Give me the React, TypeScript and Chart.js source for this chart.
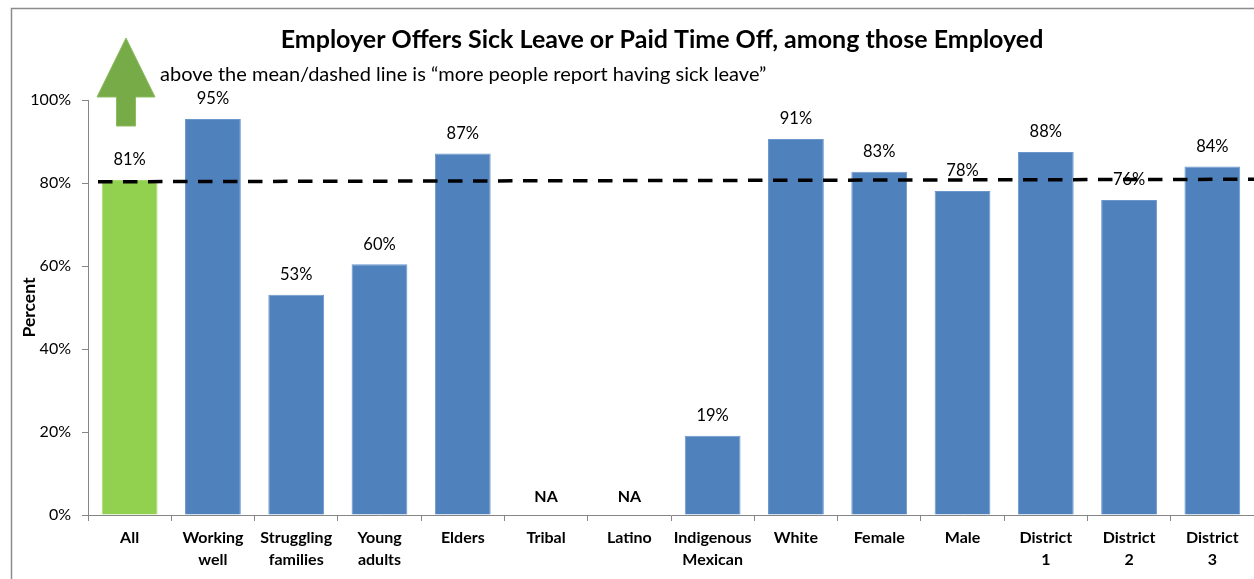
import React, { useEffect, useRef } from "react";
import { Chart, registerables } from "chart.js";

Chart.register(...registerables);

const categories: string[][] = [
  ["All"],
  ["Working", "well"],
  ["Struggling", "families"],
  ["Young", "adults"],
  ["Elders"],
  ["Tribal"],
  ["Latino"],
  ["Indigenous", "Mexican"],
  ["White"],
  ["Female"],
  ["Male"],
  ["District", "1"],
  ["District", "2"],
  ["District", "3"],
];
const values: (number | null)[] = [80.7, 95.4, 53.1, 60.4, 87.1, null, null, 19.1, 90.6, 82.7, 78.1, 87.5, 75.9, 84.0];
const valueLabels: string[] = ["81%", "95%", "53%", "60%", "87%", "NA", "NA", "19%", "91%", "83%", "78%", "88%", "76%", "84%"];
const meanLine = [
  { x: 0.12, y: 80.3 },
  { x: 14, y: 80.9 },
];
const yTickStep = 20;
const titleText = "Employer Offers Sick Leave or Paid Time Off, among those Employed";
const noteText = "above the mean/dashed line is \u201cmore people report having sick leave\u201d";
const yAxisTitle = "Percent";

const BLUE = "#4F81BD";
const GREEN = "#92D050";
const FONT = "Lato, 'Open Sans', sans-serif";
const barColors = values.map((_, i) => (i === 0 ? GREEN : BLUE));

const labelPlugin = {
  id: "barLabels",
  afterDatasetDraw(chart: any, args: any) {
    if (args.index !== 0) return;
    const ctx = chart.ctx;
    const meta = chart.getDatasetMeta(0);
    const yScale = chart.scales.y;
    const xScale = chart.scales.x;
    ctx.save();
    ctx.textAlign = "center";
    ctx.textBaseline = "middle";
    ctx.fillStyle = "#000";
    values.forEach((v, i) => {
      const x = xScale.getPixelForValue(i);
      if (v === null) {
        ctx.font = `bold 16px ${FONT}`;
        ctx.fillText(valueLabels[i], x, yScale.getPixelForValue(0) - 18);
      } else {
        const el = meta.data[i];
        ctx.font = `16.5px ${FONT}`;
        ctx.fillText(valueLabels[i], el.x, el.y - 20);
      }
    });
    ctx.restore();
  },
};

const decorPlugin = {
  id: "decor",
  beforeDraw(chart: any) {
    const ctx = chart.ctx;
    ctx.save();
    ctx.fillStyle = "#fff";
    ctx.fillRect(0, 0, chart.width, chart.height);
    ctx.strokeStyle = "#8c8c8c";
    ctx.lineWidth = 1.5;
    ctx.strokeRect(11.5, 8.5, chart.width + 100, chart.height + 100);
    ctx.restore();
  },
  afterDraw(chart: any) {
    const ctx = chart.ctx;
    ctx.save();
    ctx.fillStyle = "#000";
    ctx.textBaseline = "middle";
    ctx.textAlign = "center";
    ctx.font = `bold 25px ${FONT}`;
    ctx.fillText(titleText, 662, 40);
    ctx.textAlign = "left";
    ctx.font = `20px ${FONT}`;
    ctx.fillText(noteText, 160, 75);
    // arrow
    ctx.beginPath();
    ctx.moveTo(126, 38);
    ctx.lineTo(155, 97);
    ctx.lineTo(135.5, 97);
    ctx.lineTo(135.5, 126);
    ctx.lineTo(116.5, 126);
    ctx.lineTo(116.5, 97);
    ctx.lineTo(97, 97);
    ctx.closePath();
    ctx.fillStyle = "#77AB47";
    ctx.fill();
    ctx.strokeStyle = "#8DBB62";
    ctx.lineWidth = 1;
    ctx.stroke();
    ctx.restore();
  },
};

export default function App() {
  const ref = useRef<HTMLCanvasElement>(null);
  useEffect(() => {
    if (!ref.current) return;
    const chart = new Chart(ref.current, {
      type: "bar",
      data: {
        labels: categories,
        datasets: [
          {
            type: "bar",
            data: values as any,
            backgroundColor: barColors,
            borderColor: barColors.map((c) => (c === BLUE ? "#6B96CC" : "#A4DA6A")),
            borderWidth: 1,
            barPercentage: 0.67,
            categoryPercentage: 1,
            grouped: false,
            order: 2,
            xAxisID: "x",
          },
          {
            type: "line",
            data: meanLine as any,
            xAxisID: "xLine",
            borderColor: "#000",
            borderWidth: 3.5,
            borderDash: [14.5, 10.5],
            pointRadius: 0,
            fill: false,
            order: 1,
          } as any,
        ],
      },
      options: {
        responsive: false,
        animation: false,
        events: [],
        layout: { padding: { top: 100, left: 0, right: 0, bottom: 0 } },
        plugins: { legend: { display: false }, tooltip: { enabled: false }, title: { display: false } },
        scales: {
          x: {
            type: "category",
            offset: true,
            grid: {
              display: true,
              drawOnChartArea: false,
              offset: true,
              tickLength: 6,
              color: "#868686",
            },
            border: { color: "#868686", width: 1 },
            ticks: {
              color: "#000",
              font: { family: FONT, size: 16, weight: "bold", lineHeight: 1.375 },
              padding: 6,
              maxRotation: 0,
              autoSkip: false,
            },
            afterFit: (s: any) => {
              s.height = 64;
            },
          },
          xLine: {
            type: "linear",
            axis: "x",
            display: false,
            offset: false,
            grid: { offset: false },
            min: 0,
            max: 14,
          },
          y: {
            min: 0,
            max: 100,
            grid: { display: true, drawOnChartArea: false, tickLength: 6, color: "#868686" },
            border: { color: "#868686", width: 1 },
            ticks: {
              stepSize: yTickStep,
              color: "#000",
              padding: 11,
              font: { family: FONT, size: 16 },
              callback: (v: any) => `${v}%`,
            },
            title: {
              display: true,
              text: yAxisTitle,
              color: "#000",
              font: { family: FONT, size: 17.5, weight: "bold" },
              padding: { top: 19, bottom: 0 },
            },
            afterFit: (s: any) => {
              s.width = 88;
            },
          },
        },
      },
      plugins: [decorPlugin, labelPlugin],
    } as any);
    return () => chart.destroy();
  }, []);
  return (
    <div style={{ position: "fixed", left: 0, top: 0, width: 1254, height: 579, background: "#fff" }}>
      <canvas ref={ref} width={1254} height={579} style={{ display: "block", width: 1254, height: 579 }} />
    </div>
  );
}
